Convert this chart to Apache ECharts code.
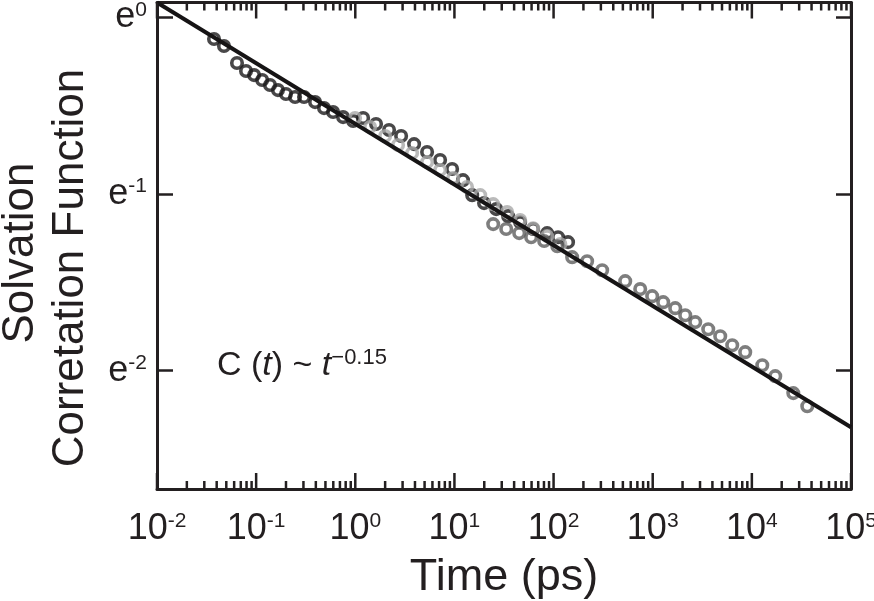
<!DOCTYPE html>
<html><head><meta charset="utf-8">
<script src="https://cdn.jsdelivr.net/npm/echarts@6/dist/echarts.min.js"></script>
<style>html,body{margin:0;padding:0;background:#fff}#c{width:874px;height:601px}</style>
</head><body><div id="c"></div>
<script>
// Time (ps) and ln of the solvation correlation function
const blackT = [0.0376,0.0474,0.0641,0.0791,0.0953,0.115,0.138,0.166,0.200,0.247,0.304,0.393,0.484,0.597,0.753,0.951,1.20,1.62,2.19,2.90,3.92,5.30,7.17,9.48,12.2,15.1,19.9,26.4,34.8,46.0,62.2,86.1,111,140];
const blackLnC = [-0.122,-0.161,-0.258,-0.303,-0.326,-0.354,-0.382,-0.411,-0.433,-0.450,-0.450,-0.479,-0.513,-0.535,-0.564,-0.586,-0.569,-0.603,-0.637,-0.671,-0.717,-0.762,-0.807,-0.858,-0.921,-1.006,-1.051,-1.085,-1.125,-1.159,-1.198,-1.221,-1.244,-1.272];

const lightT = [0.995,1.41,2.00,2.70,3.74,5.30,7.17,9.70,13.4,18.2,24.6,34.0,46.0,62.2,86.1,117];
const lightLnC = [-0.569,-0.620,-0.671,-0.722,-0.768,-0.819,-0.864,-0.909,-0.960,-1.006,-1.057,-1.102,-1.147,-1.193,-1.238,-1.283];

const darkT = [24.6,33.3,45.0,59.4,80.4,109,154,218,309,528,748,988,1276,1687,2128,2685,3631,4797,6339,8570,12740,17220,26180,36220];
const darkLnC = [-1.170,-1.198,-1.221,-1.244,-1.266,-1.295,-1.357,-1.380,-1.431,-1.493,-1.538,-1.578,-1.612,-1.646,-1.686,-1.725,-1.765,-1.805,-1.856,-1.895,-1.969,-2.031,-2.127,-2.201];

// power-law fit C(t) ~ t^-0.15 (end points)
const fitT = [0.01, 100000];
const fitLnC = [0.085, -2.32];

const xDecades = [0.01,0.1,1,10,100,1000,10000,100000];
const xExponents = ['-2','-1','0','1','2','3','4','5'];
const yTicks = [0,-1,-2];
const yLabels = ['0','-1','-2'];

const Y_MIN = -2.67, Y_MAX = 0.085;
const FONT = '"Liberation Sans", Arial, Helvetica, sans-serif';
const AX = '#231f20';
const MAJOR_LEN = 16, MINOR_LEN = 8;

const tickTimes = [], tickLens = [];
xDecades.forEach((d, i) => {
  tickTimes.push(d); tickLens.push(MAJOR_LEN);
  if (i < xDecades.length - 1) {
    for (let k = 2; k <= 9; k++) { tickTimes.push(+(k * d).toPrecision(3)); tickLens.push(MINOR_LEN); }
  }
});

// frame tick marks as thin rectangle symbols placed at the plot edges by the x scale
const bottomTickData = tickTimes.map((t, i) => ({
  value: [t, Y_MIN], symbolSize: [2.5, tickLens[i]], symbolOffset: [0, -tickLens[i] / 2]
}));
const topTickData = tickTimes.map((t, i) => ({
  value: [t, Y_MAX], symbolSize: [2.5, tickLens[i]], symbolOffset: [0, tickLens[i] / 2]
}));

function zip(a, b) { return a.map((v, i) => [v, b[i]]); }
function axLine(show) { return {show: show, onZero: false, lineStyle: {color: AX, width: 3}}; }

const chart = echarts.init(document.getElementById('c'), null, {renderer: 'canvas'});

const tickSeriesBase = {
  type: 'scatter', xAxisIndex: 0, yAxisIndex: 0, symbol: 'rect', silent: true, clip: false, z: 10,
  itemStyle: {color: AX, borderWidth: 0, opacity: 1}, emphasis: {disabled: true}
};

const option = {
  animation: false,
  backgroundColor: '#fff',
  grid: {left: 157, right: 23, top: 2.5, bottom: 112, containLabel: false, outerBoundsMode: 'none'},
  xAxis: [
    {
      type: 'log', logBase: 10, min: 0.01, max: 100000, gridIndex: 0, position: 'bottom',
      splitLine: {show: false}, minorTick: {show: false},
      axisLine: axLine(true),
      axisTick: {show: false},
      axisLabel: {show: true, margin: 22, color: '#231f20', fontFamily: FONT, fontSize: 36,
        formatter: function (v) {
          const idx = xDecades.findIndex(d => Math.abs(Math.log10(d) - Math.log10(v)) < 1e-6);
          return idx >= 0 ? '10{sup|' + xExponents[idx] + '}' : '';
        },
        rich: {sup: {fontSize: 21, fontFamily: FONT, color: '#231f20', verticalAlign: 'top', lineHeight: 22, padding: [0,0,14,0]}}
      }
    },
    {
      type: 'log', logBase: 10, min: 0.01, max: 100000, gridIndex: 0, position: 'top',
      splitLine: {show: false}, minorTick: {show: false},
      axisLine: axLine(true), axisTick: {show: false}, axisLabel: {show: false}
    }
  ],
  yAxis: [
    {
      type: 'value', min: Y_MIN, max: Y_MAX, position: 'left',
      splitLine: {show: false},
      axisLine: axLine(true),
      axisTick: {show: true, inside: true, length: 16, lineStyle: {color: AX, width: 2.5}, customValues: yTicks},
      axisLabel: {show: true, margin: 10, color: '#231f20', fontFamily: FONT, fontSize: 36,
        customValues: yTicks,
        formatter: function (v) {
          const idx = yTicks.findIndex(d => Math.abs(d - v) < 1e-6);
          return 'e{sup|' + (idx >= 0 ? yLabels[idx] : '') + '}';
        },
        rich: {sup: {fontSize: 21, fontFamily: FONT, color: '#231f20', verticalAlign: 'top', lineHeight: 22, padding: [0,0,14,0]}}
      }
    },
    {
      type: 'value', min: Y_MIN, max: Y_MAX, position: 'right',
      splitLine: {show: false},
      axisLine: axLine(true),
      axisTick: {show: true, inside: true, length: 15, lineStyle: {color: AX, width: 2.5}, customValues: yTicks},
      axisLabel: {show: false}
    }
  ],
  series: [
    {
      name: 'black', type: 'scatter', xAxisIndex: 0, yAxisIndex: 0,
      data: zip(blackT, blackLnC), symbol: 'circle', symbolSize: 10.5,
      itemStyle: {color: 'rgba(0,0,0,0)', borderColor: '#1c1a1b', borderWidth: 3.6}, z: 2
    },
    {
      name: 'light', type: 'scatter', xAxisIndex: 0, yAxisIndex: 0,
      data: zip(lightT, lightLnC), symbol: 'circle', symbolSize: 10.5,
      itemStyle: {color: 'rgba(0,0,0,0)', borderColor: '#a9a9a9', borderWidth: 3.6}, z: 3
    },
    {
      name: 'dark', type: 'scatter', xAxisIndex: 0, yAxisIndex: 0,
      data: zip(darkT, darkLnC), symbol: 'circle', symbolSize: 10.5,
      itemStyle: {color: 'rgba(0,0,0,0)', borderColor: '#5e5e5e', borderWidth: 3.6}, z: 4
    },
    {
      name: 'fit', type: 'line', xAxisIndex: 0, yAxisIndex: 0,
      data: zip(fitT, fitLnC), showSymbol: false, symbol: 'none',
      lineStyle: {color: '#161415', width: 4}, z: 5, clip: true
    },
    Object.assign({}, tickSeriesBase, {name: 'bottomTicks', data: bottomTickData}),
    Object.assign({}, tickSeriesBase, {name: 'topTicks', data: topTickData})
  ],
  graphic: [
    {type: 'text', x: 21, y: 253, rotation: Math.PI / 2,
     style: {text: 'Solvation', font: '44px ' + FONT, fill: '#231f20', textAlign: 'center', textVerticalAlign: 'middle'}},
    {type: 'text', x: 71, y: 268, rotation: Math.PI / 2,
     style: {text: 'Corretation Function', font: '44px ' + FONT, fill: '#231f20', textAlign: 'center', textVerticalAlign: 'middle'}},
    {type: 'text', x: 504, y: 578,
     style: {text: 'Time (ps)', font: '45px ' + FONT, fill: '#231f20', textAlign: 'center', textVerticalAlign: 'middle'}},
    {type: 'text', x: 217, y: 366,
     style: {
       text: '{n|C (}{i|t}{n|) ~ }{i|t}{s|\u22120.15}',
       textAlign: 'left', textVerticalAlign: 'middle', fill: '#231f20',
       rich: {
         n: {fontSize: 34, fontFamily: FONT, fill: '#231f20'},
         i: {fontSize: 34, fontFamily: FONT, fontStyle: 'italic', fill: '#231f20'},
         s: {fontSize: 22, fontFamily: FONT, fill: '#231f20', verticalAlign: 'top', padding: [0,0,16,0]}
       }
     }}
  ]
};
chart.setOption(option);
</script>
</body></html>
